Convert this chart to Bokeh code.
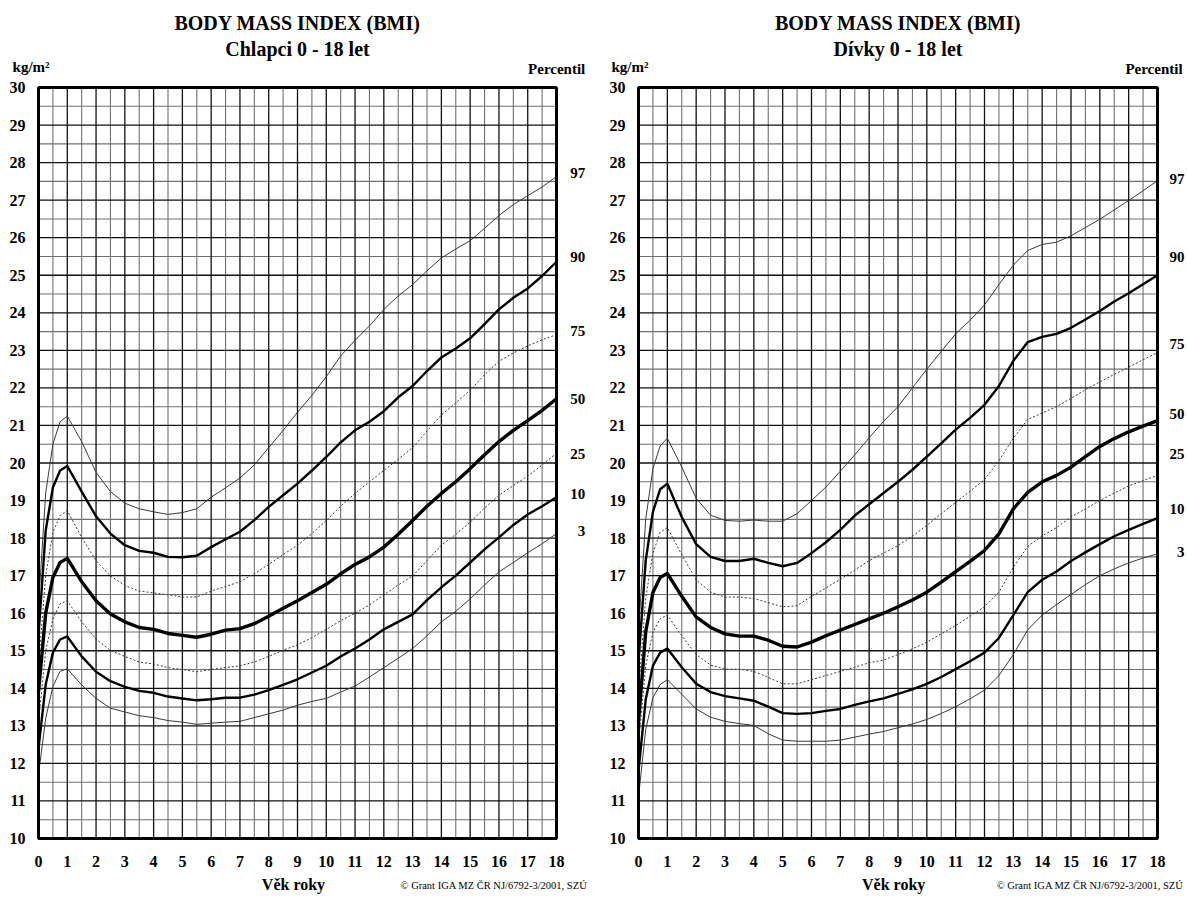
from bokeh.plotting import figure
from bokeh.layouts import row
from bokeh.models import FixedTicker, Label, LinearAxis, Range1d
from bokeh.embed import file_html
from bokeh.resources import INLINE

AGES = [0, 0.25, 0.5, 0.75, 1, 1.5, 2, 2.5, 3, 3.5, 4, 4.5, 5, 5.5, 6, 6.5, 7, 7.5, 8, 8.5,
        9, 9.5, 10, 10.5, 11, 11.5, 12, 12.5, 13, 13.5, 14, 14.5, 15, 15.5, 16, 16.5, 17, 17.5, 18]

PERCENTILES = ["3", "10", "25", "50", "75", "90", "97"]

BOYS_P3 = [11.7, 13.2, 14.05, 14.45, 14.52, 14.09, 13.73, 13.47, 13.37, 13.27, 13.22, 13.14, 13.1, 13.04,
           13.07, 13.1, 13.12, 13.22, 13.32, 13.42, 13.55, 13.65, 13.73, 13.9, 14.06, 14.3, 14.55, 14.8,
           15.06, 15.4, 15.77, 16.05, 16.38, 16.75, 17.1, 17.35, 17.61, 17.85, 18.12]
BOYS_P10 = [12.4, 14.1, 14.95, 15.3, 15.38, 14.85, 14.44, 14.19, 14.04, 13.93, 13.88, 13.78, 13.73, 13.68,
            13.71, 13.75, 13.75, 13.83, 13.95, 14.09, 14.24, 14.42, 14.6, 14.85, 15.06, 15.3, 15.57, 15.77,
            15.97, 16.35, 16.69, 17.0, 17.35, 17.7, 18.02, 18.35, 18.63, 18.85, 19.09]
BOYS_P25 = [13.1, 15.0, 15.85, 16.25, 16.33, 15.77, 15.31, 15.01, 14.85, 14.7, 14.65, 14.55, 14.5, 14.44,
            14.5, 14.55, 14.6, 14.7, 14.85, 15.01, 15.16, 15.35, 15.57, 15.8, 16.0, 16.22, 16.49, 16.75,
            16.99, 17.4, 17.81, 18.1, 18.42, 18.8, 19.14, 19.4, 19.65, 19.95, 20.26]
BOYS_P50 = [13.9, 16.0, 16.95, 17.35, 17.46, 16.84, 16.33, 15.98, 15.77, 15.62, 15.57, 15.46, 15.41, 15.36,
            15.44, 15.55, 15.59, 15.72, 15.92, 16.13, 16.33, 16.55, 16.77, 17.05, 17.3, 17.5, 17.76, 18.1,
            18.47, 18.85, 19.19, 19.5, 19.85, 20.22, 20.57, 20.87, 21.13, 21.4, 21.71]
BOYS_P75 = [14.6, 17.0, 18.15, 18.6, 18.73, 18.02, 17.4, 16.99, 16.74, 16.59, 16.54, 16.49, 16.43, 16.43,
            16.59, 16.71, 16.84, 17.05, 17.3, 17.56, 17.81, 18.12, 18.47, 18.85, 19.19, 19.5, 19.8, 20.1,
            20.41, 20.85, 21.28, 21.6, 21.94, 22.35, 22.71, 22.93, 23.12, 23.28, 23.42]
BOYS_P90 = [15.4, 18.2, 19.35, 19.8, 19.92, 19.24, 18.58, 18.12, 17.81, 17.66, 17.61, 17.5, 17.49, 17.53,
            17.76, 17.97, 18.17, 18.48, 18.83, 19.14, 19.45, 19.8, 20.16, 20.55, 20.87, 21.1, 21.38, 21.75,
            22.05, 22.45, 22.81, 23.05, 23.32, 23.7, 24.09, 24.4, 24.65, 24.98, 25.36]
BOYS_P97 = [16.2, 19.2, 20.5, 21.1, 21.25, 20.57, 19.75, 19.24, 18.93, 18.78, 18.7, 18.63, 18.68, 18.78,
            19.09, 19.34, 19.6, 19.95, 20.41, 20.87, 21.35, 21.8, 22.3, 22.85, 23.27, 23.65, 24.09, 24.45,
            24.75, 25.12, 25.46, 25.7, 25.92, 26.25, 26.59, 26.88, 27.12, 27.35, 27.63]

GIRLS_P3 = [11.1, 12.9, 13.75, 14.1, 14.23, 13.84, 13.45, 13.23, 13.12, 13.06, 13.01, 12.79, 12.62, 12.59,
            12.59, 12.59, 12.62, 12.7, 12.78, 12.85, 12.95, 13.05, 13.17, 13.33, 13.51, 13.72, 13.95, 14.34,
            14.9, 15.56, 15.95, 16.23, 16.5, 16.76, 17.0, 17.18, 17.34, 17.47, 17.58]
GIRLS_P10 = [11.8, 13.7, 14.6, 14.95, 15.06, 14.56, 14.12, 13.9, 13.79, 13.73, 13.67, 13.51, 13.34, 13.32,
             13.34, 13.4, 13.45, 13.56, 13.65, 13.73, 13.85, 13.97, 14.12, 14.3, 14.51, 14.72, 14.95, 15.34,
             15.95, 16.56, 16.89, 17.11, 17.39, 17.62, 17.84, 18.05, 18.22, 18.38, 18.53]
GIRLS_P25 = [12.5, 14.6, 15.5, 15.85, 15.95, 15.4, 14.9, 14.62, 14.51, 14.51, 14.45, 14.29, 14.12, 14.12,
             14.23, 14.34, 14.45, 14.56, 14.68, 14.75, 14.9, 15.05, 15.23, 15.45, 15.67, 15.92, 16.17, 16.56,
             17.22, 17.78, 18.06, 18.28, 18.56, 18.78, 19.0, 19.2, 19.39, 19.53, 19.67]
GIRLS_P50 = [13.1, 15.5, 16.55, 16.95, 17.06, 16.45, 15.9, 15.62, 15.45, 15.39, 15.39, 15.28, 15.12, 15.1,
             15.23, 15.4, 15.55, 15.7, 15.85, 16.0, 16.17, 16.35, 16.56, 16.83, 17.11, 17.38, 17.67, 18.11,
             18.78, 19.22, 19.5, 19.67, 19.89, 20.17, 20.44, 20.65, 20.83, 20.98, 21.13]
GIRLS_P75 = [13.9, 16.4, 17.6, 18.15, 18.28, 17.56, 16.89, 16.56, 16.43, 16.43, 16.39, 16.28, 16.17, 16.2,
             16.45, 16.67, 16.9, 17.15, 17.4, 17.6, 17.8, 18.05, 18.34, 18.65, 18.95, 19.25, 19.56, 20.06,
             20.66, 21.16, 21.33, 21.5, 21.72, 21.95, 22.16, 22.36, 22.55, 22.75, 22.94]
GIRLS_P90 = [14.7, 17.4, 18.7, 19.3, 19.45, 18.56, 17.84, 17.5, 17.39, 17.39, 17.45, 17.34, 17.25, 17.34,
             17.6, 17.89, 18.22, 18.6, 18.9, 19.2, 19.5, 19.82, 20.17, 20.52, 20.89, 21.2, 21.55, 22.05,
             22.72, 23.22, 23.36, 23.44, 23.6, 23.82, 24.05, 24.3, 24.52, 24.76, 25.0]
GIRLS_P97 = [15.5, 18.5, 19.85, 20.45, 20.66, 19.89, 19.06, 18.61, 18.47, 18.45, 18.48, 18.45, 18.45, 18.65,
             19.0, 19.36, 19.78, 20.22, 20.67, 21.11, 21.5, 22.0, 22.5, 22.97, 23.44, 23.8, 24.21, 24.75,
             25.27, 25.66, 25.82, 25.88, 26.05, 26.27, 26.49, 26.74, 26.99, 27.25, 27.52]

X_TICKS = list(range(0, 19))
Y_TICKS = list(range(10, 31))

BOYS = [BOYS_P3, BOYS_P10, BOYS_P25, BOYS_P50, BOYS_P75, BOYS_P90, BOYS_P97]
GIRLS = [GIRLS_P3, GIRLS_P10, GIRLS_P25, GIRLS_P50, GIRLS_P75, GIRLS_P90, GIRLS_P97]
for s in BOYS + GIRLS:
    assert len(s) == len(AGES)

FONT = "Liberation Serif"
FIG_H = 896

STYLES = {
    "3": dict(line_width=1.0, line_color="#3a3a3a", line_dash="solid"),
    "10": dict(line_width=2.4, line_color="#000000", line_dash="solid"),
    "25": dict(line_width=1.0, line_color="#3a3a3a", line_dash="2 2"),
    "50": dict(line_width=3.4, line_color="#000000", line_dash="solid"),
    "75": dict(line_width=1.0, line_color="#3a3a3a", line_dash="2 2"),
    "90": dict(line_width=2.4, line_color="#000000", line_dash="solid"),
    "97": dict(line_width=1.0, line_color="#3a3a3a", line_dash="solid"),
}


def make_panel(subtitle, series, label_py, fig_w, box_left, box_right, box_top, box_bottom,
               title_x, unit_x, pct_x, lab_x, axis_title_x, copy_x, copy_align):
    x0, x1 = X_TICKS[0], X_TICKS[-1]
    y0, y1 = Y_TICKS[0], Y_TICKS[-1]
    # pixel layout -> data range so that the grid box sits where the reference has it
    sx = (box_right - box_left) / (x1 - x0)
    sy = (box_bottom - box_top) / (y1 - y0)
    xr = Range1d(x0 - box_left / sx, x1 + (fig_w - box_right) / sx)
    yr = Range1d(y0 - (FIG_H - box_bottom) / sy, y1 + box_top / sy)

    p = figure(frame_width=fig_w, frame_height=FIG_H, x_range=xr, y_range=yr,
               output_backend="svg", toolbar_location=None,
               x_axis_location=None, y_axis_location=None,
               min_border=0, min_border_left=0, min_border_right=0,
               min_border_top=0, min_border_bottom=0)
    p.outline_line_color = None
    p.background_fill_color = "white"
    p.border_fill_color = "white"
    p.xgrid.visible = False
    p.ygrid.visible = False

    # grid: half-unit (lighter) and whole-unit (darker) lines inside the box
    minor_x = [t + 0.5 for t in X_TICKS[:-1]]
    minor_y = [t + 0.5 for t in Y_TICKS[:-1]]
    p.segment(x0=minor_x, y0=[y0] * len(minor_x), x1=minor_x, y1=[y1] * len(minor_x),
              line_color="#707070", line_width=1.1)
    p.segment(x0=[x0] * len(minor_y), y0=minor_y, x1=[x1] * len(minor_y), y1=minor_y,
              line_color="#707070", line_width=1.1)
    p.segment(x0=X_TICKS, y0=[y0] * len(X_TICKS), x1=X_TICKS, y1=[y1] * len(X_TICKS),
              line_color="#111111", line_width=1.3)
    p.segment(x0=[x0] * len(Y_TICKS), y0=Y_TICKS, x1=[x1] * len(Y_TICKS), y1=Y_TICKS,
              line_color="#111111", line_width=1.3)

    for name, vals in zip(PERCENTILES, series):
        p.line(AGES, vals, **STYLES[name])

    p.quad(left=[x0], right=[x1], bottom=[y0], top=[y1], fill_color=None,
           line_color="black", line_width=3)

    xaxis = LinearAxis(ticker=FixedTicker(ticks=X_TICKS), fixed_location=y0)
    yaxis = LinearAxis(ticker=FixedTicker(ticks=Y_TICKS), fixed_location=x0)
    for ax in (xaxis, yaxis):
        ax.axis_line_color = None
        ax.major_tick_line_color = None
        ax.minor_tick_line_color = None
        ax.major_label_text_font = FONT
        ax.major_label_text_font_style = "bold"
        ax.major_label_text_font_size = "16px"
        ax.major_label_text_color = "black"
    xaxis.major_label_standoff = 11
    yaxis.major_label_standoff = 7
    p.add_layout(xaxis, "below")
    p.add_layout(yaxis, "left")

    def ypix(py):
        return y1 - (py - box_top) / sy

    def lab(x, py, text, size, align="center", style="bold"):
        p.add_layout(Label(x=x, y=ypix(py), text=text, text_font=FONT, text_font_style=style,
                           text_font_size=size, text_align=align, text_baseline="middle",
                           text_color="black"))

    lab(title_x, 22, "BODY MASS INDEX (BMI)", "20px")
    lab(title_x, 48, subtitle, "20px")
    lab(unit_x, 66, "kg/m\u00b2", "15px", align="left")
    lab(pct_x, 68, "Percentil", "15px", align="right")
    for name, py in zip(PERCENTILES, label_py):
        lab(lab_x, py, name, "15px", align="right")
    lab(axis_title_x, 884, "V\u011bk roky", "16px")
    lab(copy_x, 885, "\u00a9 Grant IGA MZ \u010cR NJ/6792-3/2001, SZ\u00da", "10.5px",
        align=copy_align, style="normal")
    return p


# percentile label vertical positions (page pixels), in PERCENTILES order 3 .. 97
left = make_panel("Chlapci 0 - 18 let", BOYS,
                  [530, 493, 453, 398, 330, 256, 172],
                  fig_w=600, box_left=38, box_right=556, box_top=87, box_bottom=838,
                  title_x=9.0, unit_x=-0.9, pct_x=19.0, lab_x=19.0, axis_title_x=8.86,
                  copy_x=12.58, copy_align="left")
right = make_panel("D\u00edvky 0 - 18 let", GIRLS,
                   [551, 508, 453, 413, 343, 256, 178],
                   fig_w=586, box_left=38, box_right=557, box_top=87, box_bottom=838,
                   title_x=9.0, unit_x=-0.94, pct_x=18.87, lab_x=18.94, axis_title_x=8.85,
                   copy_x=18.9, copy_align="right")

layout = row(left, right)
open("out.html", "w").write(file_html(layout, INLINE))
